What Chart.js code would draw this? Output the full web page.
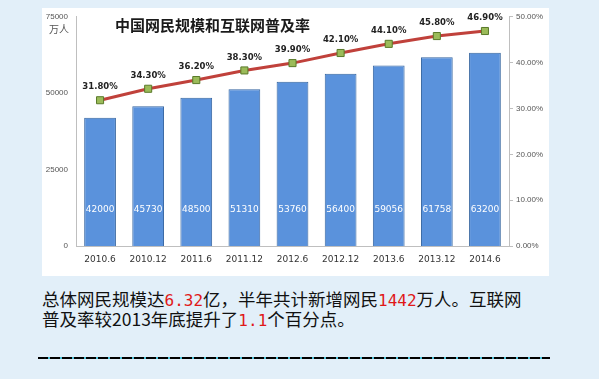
<!DOCTYPE html>
<html>
<head>
<meta charset="utf-8">
<script src="https://cdn.jsdelivr.net/npm/chart.js@4/dist/chart.umd.min.js"></script>
<style>
  html, body { margin: 0; padding: 0; }
  body { width: 599px; height: 379px; background: #e2eff9; position: relative; overflow: hidden; font-family: "Noto Sans CJK SC", sans-serif; }
  #panel { position: absolute; left: 42px; top: 8px; width: 507px; height: 268px; background: #ffffff; }
  #panel canvas { position: absolute; left: 0; top: -4px; }
  #desc { position: absolute; left: 42px; top: 290px; width: 520px; font-size: 17.5px; line-height: 18px; color: #111; letter-spacing: 0px; white-space: nowrap; }
  #desc .r { color: #e01818; font-family: "DejaVu Sans Mono", "Liberation Mono", monospace; font-size: 16px; }
  #dash { position: absolute; left: 38px; top: 357px; width: 512px; height: 2px;
          background: repeating-linear-gradient(to right, #000 0, #000 10px, #4fc3da 10px, #4fc3da 12px); }
</style>
</head>
<body>
<div id="panel"><canvas id="c" width="507" height="272"></canvas></div>
<div id="desc">总体网民规模达<span class="r">6.32</span>亿，半年共计新增网民<span class="r">1442</span>万人。互联网<br>普及率较2013年底提升了<span class="r">1.1</span>个百分点。</div>
<div id="dash"></div>
<script>
const categories = ["2010.6", "2010.12", "2011.6", "2011.12", "2012.6", "2012.12", "2013.6", "2013.12", "2014.6"];
const netizens = [42000, 45730, 48500, 51310, 53760, 56400, 59056, 61758, 63200];
const penetration = [0.318, 0.343, 0.362, 0.383, 0.399, 0.421, 0.441, 0.458, 0.469];
const leftTicks = [0, 25000, 50000, 75000];
const rightTicks = [0, 0.1, 0.2, 0.3, 0.4, 0.5];
const titleText = "中国网民规模和互联网普及率";
const unitText = "万人";

const labelPlugin = {
  id: 'labels',
  afterDatasetsDraw(chart) {
    const ctx = chart.ctx;
    const xs = chart.scales.x, ys = chart.scales.y, y1 = chart.scales.y1;
    ctx.save();
    ctx.font = '9px "DejaVu Sans", sans-serif';
    ctx.fillStyle = '#ffffff';
    ctx.textAlign = 'center';
    ctx.textBaseline = 'middle';
    netizens.forEach((v, i) => {
      ctx.fillText(String(v), xs.getPixelForValue(i), ys.getPixelForValue(0) - 36);
    });
    ctx.font = 'bold 8.5px "DejaVu Sans", sans-serif';
    ctx.fillStyle = '#222222';
    penetration.forEach((v, i) => {
      ctx.fillText((v * 100).toFixed(2) + '%', xs.getPixelForValue(i), y1.getPixelForValue(v) - 13);
    });
    ctx.font = 'bold 15px "Noto Sans CJK SC", sans-serif';
    ctx.fillStyle = '#1a1a1a';
    ctx.textAlign = 'left';
    ctx.fillText(titleText, 73, 21);
    ctx.font = '10px "Noto Sans CJK SC", sans-serif';
    ctx.fillStyle = '#555555';
    ctx.textAlign = 'right';
    ctx.fillText(unitText, 27, 25);
    ctx.restore();
  }
};

new Chart(document.getElementById('c'), {
  data: {
    labels: categories,
    datasets: [
      {
        type: 'line',
        data: penetration,
        yAxisID: 'y1',
        borderColor: '#c0413b',
        borderWidth: 3,
        pointStyle: 'rect',
        pointRadius: 5,
        pointBackgroundColor: '#9bbb59',
        pointBorderColor: '#5a7a2a',
        pointBorderWidth: 1,
        tension: 0,
        order: 0
      },
      {
        type: 'bar',
        data: netizens,
        yAxisID: 'y',
        backgroundColor: '#5a92dc',
        borderColor: '#34649f',
        borderWidth: 1,
        categoryPercentage: 1,
        barPercentage: 0.66,
        order: 1
      }
    ]
  },
  options: {
    responsive: false,
    animation: false,
    layout: { padding: { top: 0, left: 0, right: 0, bottom: 0 } },
    plugins: { legend: { display: false }, tooltip: { enabled: false }, title: { display: false } },
    scales: {
      x: {
        grid: { display: false, drawTicks: false },
        border: { display: true, color: '#bfbfbf' },
        ticks: { color: '#333', font: { size: 9, family: '"DejaVu Sans", sans-serif' }, padding: 8, maxRotation: 0 },
        afterFit(s) { s.height = 30; }
      },
      y: {
        position: 'left',
        min: 0, max: 75000,
        afterBuildTicks(s) { s.ticks = leftTicks.map(v => ({ value: v })); },
        grid: { display: false, drawTicks: false },
        border: { display: true, color: '#bfbfbf' },
        ticks: { color: '#555', font: { size: 8, family: '"Liberation Sans", sans-serif' }, padding: 8,
                 callback: v => String(v) },
        afterFit(s) { s.width = 34; }
      },
      y1: {
        position: 'right',
        min: 0, max: 0.5,
        afterBuildTicks(s) { s.ticks = rightTicks.map(v => ({ value: v })); },
        grid: { drawOnChartArea: false, tickLength: 4, color: '#bfbfbf' },
        border: { display: true, color: '#bfbfbf' },
        ticks: { color: '#555', font: { size: 8, family: '"Liberation Sans", sans-serif' }, padding: 3,
                 callback: v => (v * 100).toFixed(2) + '%' },
        afterFit(s) { s.width = 40; }
      }
    }
  },
  plugins: [labelPlugin]
});
</script>
</body>
</html>
